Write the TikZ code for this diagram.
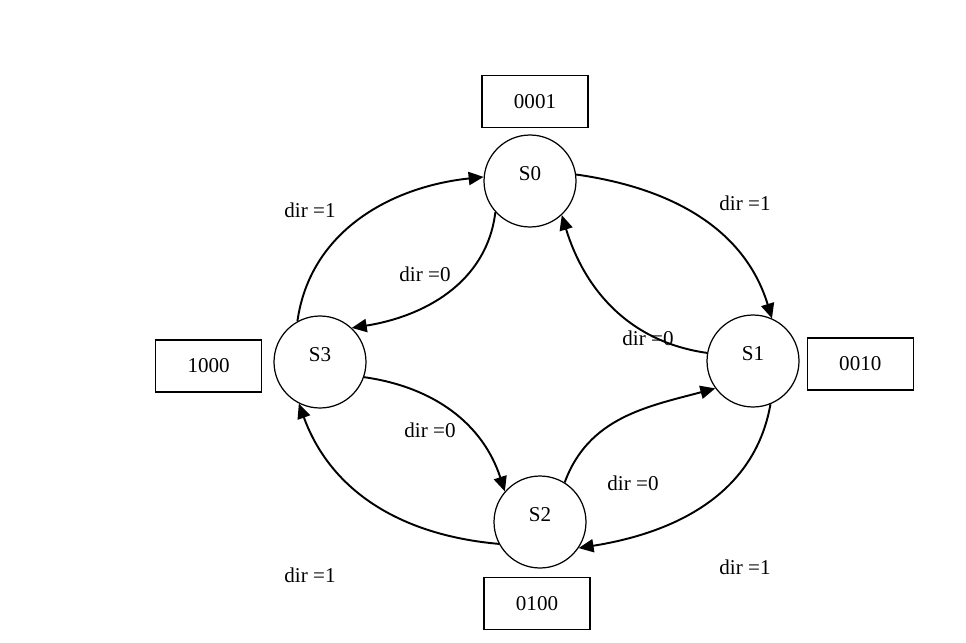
\documentclass[tikz,border=0pt]{standalone}
\usepackage{fontspec}
\setmainfont{Liberation Serif}
\usetikzlibrary{positioning,arrows.meta}

\begin{document}
\begin{tikzpicture}[
  x=0.02cm, y=0.02cm,
  state/.style={circle, draw, line width=0.7pt, minimum size=1.84cm,
    inner sep=0pt, text height=0.28cm, text depth=0.3cm,
    font=\fontsize{12}{14}\selectfont},
  code/.style={rectangle, draw, line width=0.8pt,
    minimum width=2.12cm, minimum height=1.04cm,
    font=\fontsize{12}{14}\selectfont},
  cond/.style={font=\fontsize{12}{14}\selectfont, inner sep=1pt},
  arr/.style={-{Triangle[length=8.5pt, width=7.5pt]}, line width=1.1pt}
]
\useasboundingbox (0,0) rectangle (966,-642);
\node[state] (s0) at (530,-181) {S0};
\node[state] (s1) at (753,-361) {S1};
\node[state] (s2) at (540,-522) {S2};
\node[state] (s3) at (320,-362) {S3};
\node[code, above=0.12cm of s0, xshift=0.1cm] (c0) {0001};
\node[code, right=0.14cm of s1, yshift=-0.06cm] (c1) {0010};
\node[code, below=0.16cm of s2, xshift=-0.06cm] (c2) {0100};
\node[code, left=0.22cm of s3, yshift=-0.08cm] (c3) {1000};
\node[cond] (l01) at (745,-203) {dir =1};
\node[cond] (l10) at (648,-338) {dir =0};
\node[cond] (l30) at (310,-210) {dir =1};
\node[cond] (l03) at (425,-274) {dir =0};
\node[cond] (l32) at (430,-430) {dir =0};
\node[cond] (l23) at (310,-575) {dir =1};
\node[cond] (l21) at (633,-483) {dir =0};
\node[cond] (l12) at (745,-567) {dir =1};
\draw[arr] (s0.8)    to[out=-8, in=107]  (s1.66);
\draw[arr] (s1.170)  to[out=172, in=-73] (s0.-47);
\draw[arr] (s3.119)  to[out=82, in=186]  (s0.175);
\draw[arr] (s0.-138) to[out=-97, in=9]   (s3.47);
\draw[arr] (s3.-19)  to[out=-8, in=108]  (s2.139);
\draw[arr] (s2.-152) to[out=175, in=-70] (s3.-117);
\draw[arr] (s2.58)   to[out=70, in=195]  (s1.-144);
\draw[arr] (s1.-68)  to[out=-100, in=9]  (s2.-34);
\end{tikzpicture}
\end{document}
